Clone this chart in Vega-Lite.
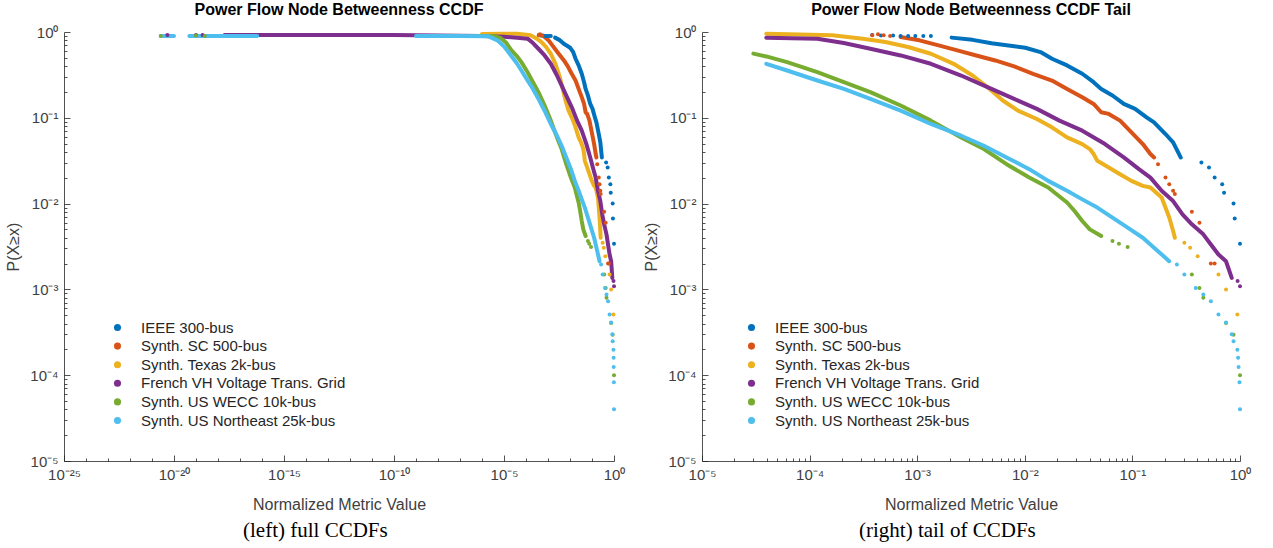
{
  "$schema": "https://vega.github.io/schema/vega-lite/v6.json",
  "padding": {"left": 5, "top": 2, "right": 5, "bottom": 5},
  "config": {
    "view": {"stroke": null},
    "font": "Liberation Sans",
    "axis": {"grid": false, "domainColor": "#262626", "tickColor": "#262626", "labelColor": "#404040", "titleColor": "#404040", "labelFontSize": 15, "titleFontSize": 16, "titleFontWeight": "normal", "domainWidth": 0.8, "tickWidth": 0.8, "labelFont": "Liberation Sans", "titleFont": "Liberation Sans"},
    "legend": {"orient": "none", "title": null, "symbolType": "circle", "symbolSize": 50, "labelFontSize": 15, "labelColor": "#262626", "rowPadding": 2.6, "labelOffset": 16, "labelLimit": 400, "symbolStrokeWidth": 0, "labelFont": "Liberation Sans"},
    "title": {"font": "Liberation Sans", "fontSize": 16, "fontWeight": "bold", "color": "#000000"}
  },
  "datasets": {
    "names": [
      {"s": "A", "name": "IEEE 300-bus"},
      {"s": "B", "name": "Synth. SC 500-bus"},
      {"s": "C", "name": "Synth. Texas 2k-bus"},
      {"s": "D", "name": "French VH Voltage Trans. Grid"},
      {"s": "E", "name": "Synth. US WECC 10k-bus"},
      {"s": "F", "name": "Synth. US Northeast 25k-bus"}
    ],
    "lines": [
      {"s":"A","g":"A1","x":0.00209,"p":0.86},{"s":"A","g":"A1","x":0.00327,"p":0.81},{"s":"A","g":"A1","x":0.0049,"p":0.74},{"s":"A","g":"A1","x":0.00677,"p":0.70},{"s":"A","g":"A1","x":0.0101,"p":0.656},{"s":"A","g":"A1","x":0.014,"p":0.583},{"s":"A","g":"A1","x":0.0179,"p":0.488},{"s":"A","g":"A1","x":0.0247,"p":0.408},{"s":"A","g":"A1","x":0.0342,"p":0.326},{"s":"A","g":"A1","x":0.0436,"p":0.26},{"s":"A","g":"A1","x":0.0513,"p":0.217},{"s":"A","g":"A1","x":0.0653,"p":0.182},{"s":"A","g":"A1","x":0.0832,"p":0.145},{"s":"A","g":"A1","x":0.106,"p":0.127},{"s":"A","g":"A1","x":0.1355,"p":0.101},{"s":"A","g":"A1","x":0.159,"p":0.0886},{"s":"A","g":"A1","x":0.203,"p":0.0647},{"s":"A","g":"A1","x":0.239,"p":0.0517},{"s":"A","g":"A1","x":0.281,"p":0.0345},
      {"s":"B","g":"B1","x":0.000702,"p":0.874},{"s":"B","g":"B1","x":0.00105,"p":0.80},{"s":"B","g":"B1","x":0.00158,"p":0.698},{"s":"B","g":"B1","x":0.00236,"p":0.61},{"s":"B","g":"B1","x":0.00354,"p":0.533},{"s":"B","g":"B1","x":0.00531,"p":0.466},{"s":"B","g":"B1","x":0.00796,"p":0.397},{"s":"B","g":"B1","x":0.01194,"p":0.326},{"s":"B","g":"B1","x":0.01787,"p":0.272},{"s":"B","g":"B1","x":0.0247,"p":0.217},{"s":"B","g":"B1","x":0.0342,"p":0.174},{"s":"B","g":"B1","x":0.0436,"p":0.145},{"s":"B","g":"B1","x":0.0513,"p":0.116},{"s":"B","g":"B1","x":0.0603,"p":0.111},{"s":"B","g":"B1","x":0.0768,"p":0.0927},{"s":"B","g":"B1","x":0.098,"p":0.0677},{"s":"B","g":"B1","x":0.125,"p":0.0494},{"s":"B","g":"B1","x":0.147,"p":0.0378},{"s":"B","g":"B1","x":0.159,"p":0.0345},
      {"s":"C","g":"C1","x":0.000001,"p":0.95},{"s":"C","g":"C1","x":0.00001,"p":0.955},{"s":"C","g":"C1","x":0.0000396,"p":0.956},{"s":"C","g":"C1","x":0.000163,"p":0.914},{"s":"C","g":"C1","x":0.000312,"p":0.836},{"s":"C","g":"C1","x":0.000507,"p":0.764},{"s":"C","g":"C1","x":0.000824,"p":0.668},{"s":"C","g":"C1","x":0.00134,"p":0.558},{"s":"C","g":"C1","x":0.00218,"p":0.426},{"s":"C","g":"C1","x":0.00327,"p":0.311},{"s":"C","g":"C1","x":0.00452,"p":0.227},{"s":"C","g":"C1","x":0.00624,"p":0.159},{"s":"C","g":"C1","x":0.00863,"p":0.121},{"s":"C","g":"C1","x":0.01294,"p":0.0969},{"s":"C","g":"C1","x":0.01787,"p":0.0774},{"s":"C","g":"C1","x":0.0247,"p":0.0591},{"s":"C","g":"C1","x":0.0342,"p":0.0494},{"s":"C","g":"C1","x":0.0402,"p":0.0432},{"s":"C","g":"C1","x":0.0436,"p":0.0378},{"s":"C","g":"C1","x":0.0472,"p":0.0315},{"s":"C","g":"C1","x":0.0603,"p":0.0264},{"s":"C","g":"C1","x":0.0768,"p":0.022},{"s":"C","g":"C1","x":0.098,"p":0.0184},{"s":"C","g":"C1","x":0.125,"p":0.0161},{"s":"C","g":"C1","x":0.147,"p":0.0154},{"s":"C","g":"C1","x":0.159,"p":0.0141},{"s":"C","g":"C1","x":0.187,"p":0.0118},{"s":"C","g":"C1","x":0.203,"p":0.009},{"s":"C","g":"C1","x":0.22,"p":0.0069},{"s":"C","g":"C1","x":0.239,"p":0.0048},{"s":"C","g":"C1","x":0.248,"p":0.004},
      {"s":"D","g":"D1","x":2e-18,"p":0.92},{"s":"D","g":"D1","x":1e-10,"p":0.92},{"s":"D","g":"D1","x":0.000001,"p":0.9},{"s":"D","g":"D1","x":0.00001,"p":0.88},{"s":"D","g":"D1","x":0.0000396,"p":0.859},{"s":"D","g":"D1","x":0.000118,"p":0.836},{"s":"D","g":"D1","x":0.000208,"p":0.743},{"s":"D","g":"D1","x":0.000367,"p":0.638},{"s":"D","g":"D1","x":0.000702,"p":0.533},{"s":"D","g":"D1","x":0.00134,"p":0.426},{"s":"D","g":"D1","x":0.00256,"p":0.311},{"s":"D","g":"D1","x":0.0049,"p":0.217},{"s":"D","g":"D1","x":0.00796,"p":0.166},{"s":"D","g":"D1","x":0.01294,"p":0.127},{"s":"D","g":"D1","x":0.021,"p":0.0927},{"s":"D","g":"D1","x":0.0342,"p":0.0708},{"s":"D","g":"D1","x":0.0556,"p":0.0494},{"s":"D","g":"D1","x":0.0832,"p":0.0345},{"s":"D","g":"D1","x":0.115,"p":0.0252},{"s":"D","g":"D1","x":0.147,"p":0.0201},{"s":"D","g":"D1","x":0.187,"p":0.0141},{"s":"D","g":"D1","x":0.239,"p":0.0107},{"s":"D","g":"D1","x":0.292,"p":0.0075},{"s":"D","g":"D1","x":0.357,"p":0.00573},{"s":"D","g":"D1","x":0.456,"p":0.00438},{"s":"D","g":"D1","x":0.536,"p":0.00334},{"s":"D","g":"D1","x":0.631,"p":0.00255},{"s":"D","g":"D1","x":0.741,"p":0.00213},{"s":"D","g":"D1","x":0.838,"p":0.00136},
      {"s":"E","g":"E1","x":3e-7,"p":0.9},{"s":"E","g":"E1","x":0.000003,"p":0.9},{"s":"E","g":"E1","x":0.000007,"p":0.85},{"s":"E","g":"E1","x":0.000012,"p":0.76},{"s":"E","g":"E1","x":0.00002,"p":0.63},{"s":"E","g":"E1","x":0.00003,"p":0.56},{"s":"E","g":"E1","x":0.0000396,"p":0.519},{"s":"E","g":"E1","x":0.0000618,"p":0.446},{"s":"E","g":"E1","x":0.000118,"p":0.34},{"s":"E","g":"E1","x":0.000208,"p":0.26},{"s":"E","g":"E1","x":0.000367,"p":0.199},{"s":"E","g":"E1","x":0.000702,"p":0.139},{"s":"E","g":"E1","x":0.00134,"p":0.0927},{"s":"E","g":"E1","x":0.00256,"p":0.0591},{"s":"E","g":"E1","x":0.00417,"p":0.0432},{"s":"E","g":"E1","x":0.00677,"p":0.0288},{"s":"E","g":"E1","x":0.011,"p":0.0201},{"s":"E","g":"E1","x":0.0165,"p":0.0154},{"s":"E","g":"E1","x":0.0247,"p":0.0103},{"s":"E","g":"E1","x":0.029,"p":0.0082},{"s":"E","g":"E1","x":0.0342,"p":0.00627},{"s":"E","g":"E1","x":0.0402,"p":0.00501},{"s":"E","g":"E1","x":0.0513,"p":0.00419},
      {"s":"F","g":"F0","x":2.5e-21,"p":0.9},{"s":"F","g":"F0","x":1e-20,"p":0.9},
      {"s":"F","g":"F1","x":5e-20,"p":0.9},{"s":"F","g":"F1","x":6e-17,"p":0.9},
      {"s":"F","g":"F2","x":1e-9,"p":0.9},{"s":"F","g":"F2","x":1e-7,"p":0.9},{"s":"F","g":"F2","x":0.000002,"p":0.89},{"s":"F","g":"F2","x":0.000005,"p":0.8},{"s":"F","g":"F2","x":0.00001,"p":0.68},{"s":"F","g":"F2","x":0.00002,"p":0.54},{"s":"F","g":"F2","x":0.0000396,"p":0.426},{"s":"F","g":"F2","x":0.0000618,"p":0.356},{"s":"F","g":"F2","x":0.000118,"p":0.272},{"s":"F","g":"F2","x":0.000208,"p":0.217},{"s":"F","g":"F2","x":0.000367,"p":0.166},{"s":"F","g":"F2","x":0.000702,"p":0.121},{"s":"F","g":"F2","x":0.00134,"p":0.0847},{"s":"F","g":"F2","x":0.00256,"p":0.0618},{"s":"F","g":"F2","x":0.00417,"p":0.0472},{"s":"F","g":"F2","x":0.00677,"p":0.0345},{"s":"F","g":"F2","x":0.011,"p":0.0252},{"s":"F","g":"F2","x":0.0165,"p":0.0184},{"s":"F","g":"F2","x":0.0247,"p":0.0141},{"s":"F","g":"F2","x":0.0342,"p":0.0112},{"s":"F","g":"F2","x":0.0472,"p":0.00898},{"s":"F","g":"F2","x":0.0653,"p":0.00686},{"s":"F","g":"F2","x":0.0903,"p":0.00524},{"s":"F","g":"F2","x":0.125,"p":0.004},{"s":"F","g":"F2","x":0.173,"p":0.00279},{"s":"F","g":"F2","x":0.22,"p":0.00213}
    ],
    "dots": [
      {"s":"A","x":0.000382,"p":0.92},{"s":"A","x":0.00046,"p":0.91},{"s":"A","x":0.000597,"p":0.91},{"s":"A","x":0.0007,"p":0.9},{"s":"A","x":0.000824,"p":0.9},{"s":"A","x":0.00096,"p":0.9},{"s":"A","x":0.00114,"p":0.9},{"s":"A","x":0.00134,"p":0.9},{"s":"A","x":0.438,"p":0.0302},{"s":"A","x":0.515,"p":0.0264},{"s":"A","x":0.581,"p":0.0201},{"s":"A","x":0.683,"p":0.0168},{"s":"A","x":0.711,"p":0.0134},{"s":"A","x":0.871,"p":0.01},{"s":"A","x":0.893,"p":0.0067},{"s":"A","x":1.0,"p":0.0034},
      {"s":"B","x":0.000382,"p":0.914},{"s":"B","x":0.000432,"p":0.94},{"s":"B","x":0.000488,"p":0.914},{"s":"B","x":0.00056,"p":0.9},{"s":"B","x":0.173,"p":0.0288},{"s":"B","x":0.203,"p":0.0201},{"s":"B","x":0.22,"p":0.0168},{"s":"B","x":0.239,"p":0.0141},{"s":"B","x":0.248,"p":0.0129},{"s":"B","x":0.357,"p":0.00805},{"s":"B","x":0.42,"p":0.006},{"s":"B","x":0.536,"p":0.002},{"s":"B","x":0.581,"p":0.002},
      {"s":"C","x":0.304,"p":0.0035},{"s":"C","x":0.344,"p":0.00306},{"s":"C","x":0.404,"p":0.00244},{"s":"C","x":0.631,"p":0.00149},{"s":"C","x":0.741,"p":0.001},{"s":"C","x":0.945,"p":0.00051},
      {"s":"D","x":5e-21,"p":0.92},{"s":"D","x":1e-19,"p":0.92},{"s":"D","x":2e-19,"p":0.92},{"s":"D","x":0.95,"p":0.00125},{"s":"D","x":1.0,"p":0.00109},
      {"s":"E","x":2.5e-21,"p":0.9},{"s":"E","x":1e-19,"p":0.91},{"s":"E","x":2.5e-19,"p":0.9},{"s":"E","x":0.0653,"p":0.00366},{"s":"E","x":0.075,"p":0.0034},{"s":"E","x":0.0903,"p":0.00311},{"s":"E","x":0.357,"p":0.00149},{"s":"E","x":0.42,"p":0.00104},{"s":"E","x":0.456,"p":0.0008},{"s":"E","x":0.741,"p":0.000406},{"s":"E","x":0.871,"p":0.000296},{"s":"E","x":1.0,"p":0.0001},
      {"s":"F","x":0.259,"p":0.00195},{"s":"F","x":0.304,"p":0.00149},{"s":"F","x":0.388,"p":0.00104},{"s":"F","x":0.456,"p":0.00087},{"s":"F","x":0.536,"p":0.00073},{"s":"F","x":0.631,"p":0.00051},{"s":"F","x":0.741,"p":0.00041},{"s":"F","x":0.838,"p":0.0003},{"s":"F","x":0.871,"p":0.000248},{"s":"F","x":0.945,"p":0.000198},{"s":"F","x":0.96,"p":0.00016},{"s":"F","x":0.97,"p":0.000125},{"s":"F","x":0.99,"p":0.000083},{"s":"F","x":1.0,"p":0.00004}
    ]
  },
  "hconcat": [
    {
      "title": {"text": "(left) full CCDFs", "orient": "bottom", "font": "Liberation Serif", "fontSize": 21, "fontWeight": "normal", "color": "#000000", "offset": 8, "anchor": "middle"},
      "vconcat": [
        {
          "title": {"text": "Power Flow Node Betweenness CCDF", "frame": "group", "anchor": "middle", "offset": 7},
          "width": 550,
          "height": 429,
          "layer": [
            {
              "data": {"name": "lines"},
              "transform": [{"lookup": "s", "from": {"data": {"name": "names"}, "key": "s", "fields": ["name"]}}],
              "mark": {"type": "line", "strokeWidth": 4, "strokeCap": "round", "strokeJoin": "round"},
              "encoding": {
                "x": {"field": "x", "type": "quantitative", "scale": {"type": "log", "domain": [1e-25, 1], "nice": false},
                  "axis": {"title": "Normalized Metric Value", "values": [1e-25,1e-24,1e-23,1e-22,1e-21,1e-20,1e-19,1e-18,1e-17,1e-16,1e-15,1e-14,1e-13,1e-12,1e-11,1e-10,1e-9,1e-8,1e-7,1e-6,1e-5,1e-4,1e-3,1e-2,1e-1,1],
                    "labelExpr": "round(log(datum.value)/LN10) % 5 == 0 ? ['10⁰','10⁻¹','10⁻²','10⁻³','10⁻⁴','10⁻⁵','10⁻⁶','10⁻⁷','10⁻⁸','10⁻⁹','10⁻¹⁰','10⁻¹¹','10⁻¹²','10⁻¹³','10⁻¹⁴','10⁻¹⁵','10⁻¹⁶','10⁻¹⁷','10⁻¹⁸','10⁻¹⁹','10⁻²⁰','10⁻²¹','10⁻²²','10⁻²³','10⁻²⁴','10⁻²⁵'][round(-log(datum.value)/LN10)] : ''",
                    "tickSize": {"condition": {"test": "round(log(datum.value)/LN10) % 5 == 0", "value": -6}, "value": -3},
                    "labelFontSize": 15, "titleFontSize": 16,
                    "labelPadding": 12, "titlePadding": 11, "labelFlush": false, "labelOverlap": false}},
                "y": {"field": "p", "type": "quantitative", "scale": {"type": "log", "domain": [0.00001, 1], "nice": false},
                  "axis": {"title": "P(X≥x)", "values": [0.00001,0.00002,0.00003,0.00004,0.00005,0.00006,0.00007,0.00008,0.00009,0.0001,0.0002,0.0003,0.0004,0.0005,0.0006,0.0007,0.0008,0.0009,0.001,0.002,0.003,0.004,0.005,0.006,0.007,0.008,0.009,0.01,0.02,0.03,0.04,0.05,0.06,0.07,0.08,0.09,0.1,0.2,0.3,0.4,0.5,0.6,0.7,0.8,0.9,1],
                    "labelExpr": "abs(log(datum.value)/LN10 - round(log(datum.value)/LN10)) < 0.001 ? ['10⁰','10⁻¹','10⁻²','10⁻³','10⁻⁴','10⁻⁵'][round(-log(datum.value)/LN10)] : ''",
                    "tickSize": {"condition": {"test": "abs(log(datum.value)/LN10 - round(log(datum.value)/LN10)) < 0.001", "value": -6}, "value": -3},
                    "labelFontSize": 15, "titleFontSize": 16,
                    "labelPadding": 12, "titlePadding": 8, "labelFlush": false, "labelOverlap": false}},
                "color": {"field": "name", "type": "nominal",
                  "scale": {"domain": ["IEEE 300-bus","Synth. SC 500-bus","Synth. Texas 2k-bus","French VH Voltage Trans. Grid","Synth. US WECC 10k-bus","Synth. US Northeast 25k-bus"], "range": ["#0072BD","#D95319","#EDB120","#7E2F8E","#77AC30","#4DBEEE"]},
                  "legend": {"orient": "none", "legendX": 46, "legendY": 288, "symbolType": "circle", "labelLimit": 400}},
                "detail": {"field": "g"}
              }
            },
            {
              "data": {"name": "dots"},
              "transform": [{"lookup": "s", "from": {"data": {"name": "names"}, "key": "s", "fields": ["name"]}}],
              "mark": {"type": "point", "filled": true, "size": 16, "opacity": 1},
              "encoding": {
                "x": {"field": "x", "type": "quantitative"},
                "y": {"field": "p", "type": "quantitative"},
                "color": {"field": "name", "type": "nominal"}
              }
            }
          ]
        }
      ]
    },
    {
      "title": {"text": "(right) tail of CCDFs", "orient": "bottom", "font": "Liberation Serif", "fontSize": 21, "fontWeight": "normal", "color": "#000000", "offset": 8, "anchor": "middle"},
      "vconcat": [
        {
          "title": {"text": "Power Flow Node Betweenness CCDF Tail", "frame": "group", "anchor": "middle", "offset": 7},
          "width": 538,
          "height": 429,
          "layer": [
            {
              "data": {"name": "lines"},
              "transform": [{"filter": "datum.x >= 0.00003"}, {"lookup": "s", "from": {"data": {"name": "names"}, "key": "s", "fields": ["name"]}}],
              "mark": {"type": "line", "strokeWidth": 4, "strokeCap": "round", "strokeJoin": "round"},
              "encoding": {
                "x": {"field": "x", "type": "quantitative", "scale": {"type": "log", "domain": [0.00001, 1], "nice": false},
                  "axis": {"title": "Normalized Metric Value", "values": [0.00001,0.00002,0.00003,0.00004,0.00005,0.00006,0.00007,0.00008,0.00009,0.0001,0.0002,0.0003,0.0004,0.0005,0.0006,0.0007,0.0008,0.0009,0.001,0.002,0.003,0.004,0.005,0.006,0.007,0.008,0.009,0.01,0.02,0.03,0.04,0.05,0.06,0.07,0.08,0.09,0.1,0.2,0.3,0.4,0.5,0.6,0.7,0.8,0.9,1],
                    "labelExpr": "abs(log(datum.value)/LN10 - round(log(datum.value)/LN10)) < 0.001 ? ['10⁰','10⁻¹','10⁻²','10⁻³','10⁻⁴','10⁻⁵'][round(-log(datum.value)/LN10)] : ''",
                    "tickSize": {"condition": {"test": "abs(log(datum.value)/LN10 - round(log(datum.value)/LN10)) < 0.001", "value": -6}, "value": -3},
                    "labelFontSize": 15, "titleFontSize": 16,
                    "labelPadding": 12, "titlePadding": 11, "labelFlush": false, "labelOverlap": false}},
                "y": {"field": "p", "type": "quantitative", "scale": {"type": "log", "domain": [0.00001, 1], "nice": false},
                  "axis": {"title": "P(X≥x)", "values": [0.00001,0.00002,0.00003,0.00004,0.00005,0.00006,0.00007,0.00008,0.00009,0.0001,0.0002,0.0003,0.0004,0.0005,0.0006,0.0007,0.0008,0.0009,0.001,0.002,0.003,0.004,0.005,0.006,0.007,0.008,0.009,0.01,0.02,0.03,0.04,0.05,0.06,0.07,0.08,0.09,0.1,0.2,0.3,0.4,0.5,0.6,0.7,0.8,0.9,1],
                    "labelExpr": "abs(log(datum.value)/LN10 - round(log(datum.value)/LN10)) < 0.001 ? ['10⁰','10⁻¹','10⁻²','10⁻³','10⁻⁴','10⁻⁵'][round(-log(datum.value)/LN10)] : ''",
                    "tickSize": {"condition": {"test": "abs(log(datum.value)/LN10 - round(log(datum.value)/LN10)) < 0.001", "value": -6}, "value": -3},
                    "labelFontSize": 15, "titleFontSize": 16,
                    "labelPadding": 12, "titlePadding": 8, "labelFlush": false, "labelOverlap": false}},
                "color": {"field": "name", "type": "nominal",
                  "scale": {"domain": ["IEEE 300-bus","Synth. SC 500-bus","Synth. Texas 2k-bus","French VH Voltage Trans. Grid","Synth. US WECC 10k-bus","Synth. US Northeast 25k-bus"], "range": ["#0072BD","#D95319","#EDB120","#7E2F8E","#77AC30","#4DBEEE"]},
                  "legend": {"orient": "none", "legendX": 42, "legendY": 288, "symbolType": "circle", "labelLimit": 400}},
                "detail": {"field": "g"}
              }
            },
            {
              "data": {"name": "dots"},
              "transform": [{"filter": "datum.x >= 0.00003"}, {"lookup": "s", "from": {"data": {"name": "names"}, "key": "s", "fields": ["name"]}}],
              "mark": {"type": "point", "filled": true, "size": 16, "opacity": 1},
              "encoding": {
                "x": {"field": "x", "type": "quantitative"},
                "y": {"field": "p", "type": "quantitative"},
                "color": {"field": "name", "type": "nominal"}
              }
            }
          ]
        }
      ]
    }
  ],
  "spacing": 18,
  "resolve": {"scale": {"color": "independent"}}
}
